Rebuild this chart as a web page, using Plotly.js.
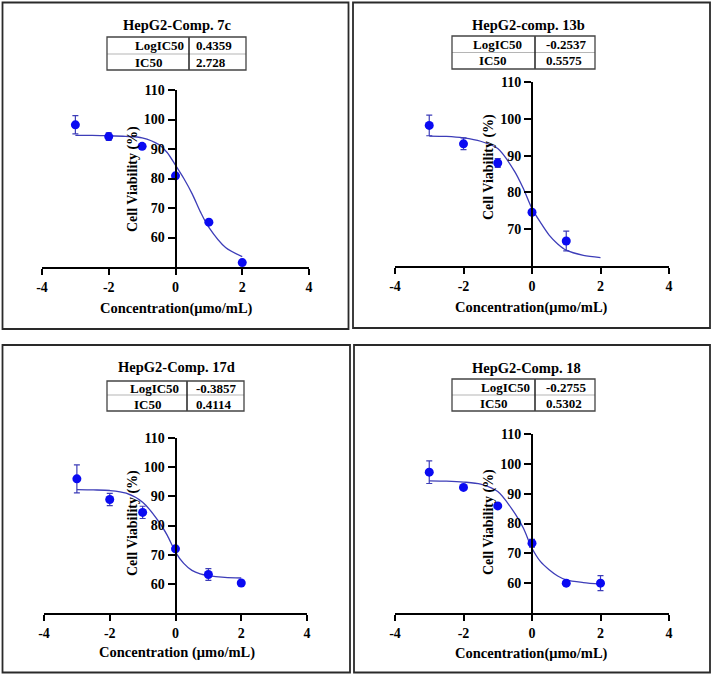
<!DOCTYPE html>
<html>
<head>
<meta charset="utf-8">
<script src="https://cdn.plot.ly/plotly-3.0.1.min.js"></script>
<style>
  html, body { margin: 0; padding: 0; background: #fff; }
  #chart { width: 712px; height: 676px; }
</style>
</head>
<body>
<div id="chart"></div>
<script>
// ---------------- DATA ----------------
const titles = ["HepG2-Comp. 7c", "HepG2-comp. 13b", "HepG2-Comp. 17d", "HepG2-Comp. 18"];
const logIC50 = ["0.4359", "-0.2537", "-0.3857", "-0.2755"];
const ic50 = ["2.728", "0.5575", "0.4114", "0.5302"];
const xTitles = ["Concentration(μmo/mL)", "Concentration(μmo/mL)", "Concentration (μmo/mL)", "Concentration(μmo/mL)"];
const yTitle = "Cell Viability (%)";

const xTickVals = [-4, -2, 0, 2, 4];
const xTickText = ["-4", "-2", "0", "2", "4"];
const yTickVals = [[60, 70, 80, 90, 100, 110], [70, 80, 90, 100, 110], [60, 70, 80, 90, 100, 110], [60, 70, 80, 90, 100, 110]];
const yMin = [50, 60, 50, 50];

// measured points (log concentration vs viability) and SD
const dose7c = [-3, -2, -1, 0, 1, 2];
const via7c = [98.2, 94.2, 90.9, 80.9, 65.2, 51.5];
const sd7c = [3.1, 1.3, 0.9, 0, 0, 0];

const dose13b = [-3, -2, -1, 0, 1];
const via13b = [98.2, 93.2, 88.0, 74.6, 66.8];
const sd13b = [2.8, 1.6, 1.2, 0, 2.7];

const dose17d = [-3, -2, -1, 0, 1, 2];
const via17d = [96.0, 88.9, 84.5, 72.0, 63.2, 60.3];
const sd17d = [4.8, 2.1, 2.1, 0, 2.0, 0];

const dose18 = [-3, -2, -1, 0, 1, 2];
const via18 = [97.2, 92.1, 85.9, 73.4, 60.0, 60.0];
const sd18 = [3.8, 0, 0, 1.3, 0, 2.5];

// fitted curves
const curveX = [-3, -2.5, -2, -1.5, -1, -0.5, -0.25, 0, 0.25, 0.5, 0.75, 1, 1.5, 2];
const fit7c = [94.6, 94.6, 94.5, 94.3, 93.8, 91.5, 88.8, 84.5, 80.0, 74.8, 68.6, 63.4, 56.6, 53.5];
const fit13b = [95.3, 95.2, 94.8, 93.9, 91.9, 85.6, 81.0, 75.6, 71.8, 68.4, 66.0, 64.3, 62.9, 62.3];
const fit17d = [92.3, 92.2, 92.0, 91.1, 88.0, 81.2, 76.6, 70.9, 67.0, 64.6, 63.4, 62.8, 62.2, 62.0];
const fit18 = [94.3, 94.2, 93.9, 93.2, 90.7, 83.4, 78.4, 71.7, 67.2, 64.5, 62.4, 61.1, 60.2, 59.7];

const doses = [dose7c, dose13b, dose17d, dose18];
const vias = [via7c, via13b, via17d, via18];
const sds = [sd7c, sd13b, sd17d, sd18];
const fits = [fit7c, fit13b, fit17d, fit18];

// ---------------- LAYOUT GEOMETRY (pixels) ----------------
const W = 712, H = 676;
const px = v => v / W;
const py = v => 1 - v / H;

const geo = [
  { xL: 42, xR: 309, yT: 90, yB: 267, box: [2.5, 2.5, 348.5, 329],
    title: [177, 25], tab: { l: 107, r: 246, d: 189, t: 37, b: 70, m: 54, r1: 45.5, r2: 62, lx1: 133, lx2: 133, rx: 194 },
    xt: [176, 308], yt: [133, 179] },
  { xL: 395, xR: 669, yT: 82, yB: 266, box: [353, 2.5, 710, 328],
    title: [528, 25], tab: { l: 452, r: 595, d: 535, t: 36, b: 69, m: 52.5, r1: 44, r2: 60.5, lx1: 471, lx2: 477, rx: 544 },
    xt: [531.5, 307], yt: [489, 167] },
  { xL: 44, xR: 307, yT: 438, yB: 613, box: [2.5, 345, 350, 672.5],
    title: [176.5, 367], tab: { l: 107, r: 244, d: 187, t: 381, b: 411, m: 395, r1: 388.5, r2: 404, lx1: 128, lx2: 132, rx: 193.5 },
    xt: [176.7, 652], yt: [133, 523] },
  { xL: 395, xR: 669, yT: 434, yB: 613, box: [354, 345, 710, 672.5],
    title: [526, 368], tab: { l: 452, r: 595, d: 535, t: 379, b: 411, m: 395, r1: 387.5, r2: 403, lx1: 479, lx2: 478, rx: 543.5 },
    xt: [531, 653], yt: [489, 522] }
];

const FONT = "Liberation Serif, Times New Roman, serif";
const markerColor = "#0a0af2";
const lineColor = "#3d3db8";

const traces = [];
const layout = {
  width: W, height: H,
  margin: { l: 0, r: 0, t: 0, b: 0 },
  paper_bgcolor: "#fff", plot_bgcolor: "rgba(0,0,0,0)",
  showlegend: false,
  font: { family: FONT, color: "#000" },
  shapes: [], annotations: []
};

for (let i = 0; i < 4; i++) {
  const g = geo[i];
  const n = i === 0 ? "" : String(i + 1);
  const xa = "x" + n, ya = "y" + n;

  traces.push({
    x: curveX, y: fits[i], xaxis: xa, yaxis: ya,
    mode: "lines", line: { color: lineColor, width: 1.3, shape: "spline", smoothing: 0.8 },
    hoverinfo: "skip"
  });
  traces.push({
    x: doses[i], y: vias[i], xaxis: xa, yaxis: ya,
    mode: "markers",
    marker: { color: markerColor, size: 9 },
    error_y: { type: "data", array: sds[i], visible: true, color: lineColor, thickness: 1.2, width: 3 },
    cliponaxis: false
  });

  const xDom = [px(g.xL), px(g.xR)];
  const yDom = [py(g.yB), py(g.yT)];
  layout["xaxis" + n] = {
    domain: xDom, range: [-4, 4], anchor: ya,
    tickmode: "array", tickvals: xTickVals, ticktext: xTickText,
    ticks: "outside", ticklen: 6, tickwidth: 2, tickcolor: "#000",
    showline: true, linewidth: 2, linecolor: "#000",
    showgrid: false, zeroline: false,
    tickfont: { family: FONT, size: 14, color: "#000", weight: "bold" }
  };
  layout["yaxis" + n] = {
    domain: yDom, range: [yMin[i], 110], anchor: "free", position: (xDom[0] + xDom[1]) / 2,
    tickmode: "array", tickvals: yTickVals[i], ticktext: yTickVals[i].map(String),
    ticks: "outside", ticklen: 7, tickwidth: 2, tickcolor: "#000",
    showline: true, linewidth: 2, linecolor: "#000",
    showgrid: false, zeroline: false,
    tickfont: { family: FONT, size: 14, color: "#000", weight: "bold" }
  };

  // panel border
  layout.shapes.push({ type: "rect", xref: "paper", yref: "paper",
    x0: px(g.box[0]), x1: px(g.box[2]), y0: py(g.box[3]), y1: py(g.box[1]),
    line: { color: "#2a2a2a", width: 1.8 } });

  // table
  const t = g.tab;
  layout.shapes.push({ type: "line", xref: "paper", yref: "paper",
    x0: px(t.l), x1: px(t.r), y0: py(t.m), y1: py(t.m), line: { color: "#b5b5b5", width: 1 } });
  layout.shapes.push({ type: "line", xref: "paper", yref: "paper",
    x0: px(t.d), x1: px(t.d), y0: py(t.b), y1: py(t.t), line: { color: "#222", width: 1.5 } });
  layout.shapes.push({ type: "rect", xref: "paper", yref: "paper",
    x0: px(t.l), x1: px(t.r), y0: py(t.b), y1: py(t.t), line: { color: "#444", width: 1.3 } });

  const tf = { family: FONT, size: 13, color: "#000", weight: "bold" };
  const addText = (text, x, y, xanchor, font, extra) => {
    layout.annotations.push(Object.assign({ text, x: px(x), y: py(y), xref: "paper", yref: "paper",
      xanchor, yanchor: "middle", showarrow: false, font }, extra || {}));
  };
  addText("LogIC50", t.lx1, t.r1, "left", tf);
  addText("IC50", t.lx2, t.r2, "left", tf);
  addText(logIC50[i], t.rx, t.r1, "left", tf);
  addText(ic50[i], t.rx, t.r2, "left", tf);

  // titles
  addText(titles[i], g.title[0], g.title[1], "center", { family: FONT, size: 14.5, color: "#000", weight: "bold" });
  addText(xTitles[i], g.xt[0], g.xt[1], "center", { family: FONT, size: 14.5, color: "#000", weight: "bold" });
  addText(yTitle, g.yt[0], g.yt[1], "center", { family: FONT, size: 14, color: "#000", weight: "bold" }, { textangle: -90 });
}

Plotly.newPlot("chart", traces, layout, { staticPlot: true, displayModeBar: false });
</script>
</body>
</html>
